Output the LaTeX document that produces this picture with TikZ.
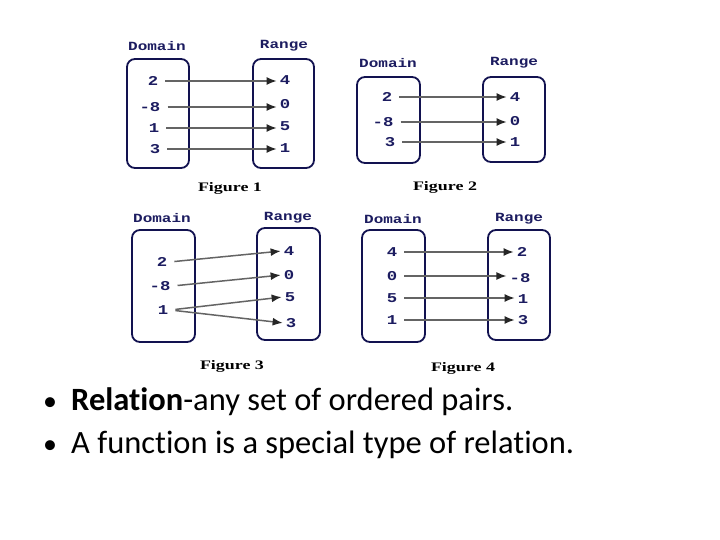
\documentclass[tikz,border=0pt]{standalone}
\usepackage{fontspec}
\setmainfont[Ligatures=NoCommon]{Carlito}
\newfontfamily\monof[FakeStretch=1.28]{Liberation Mono}
\newfontfamily\figf[FakeStretch=1.38]{Liberation Serif}
\usetikzlibrary{arrows.meta}
\definecolor{navy}{RGB}{28,28,96}
\definecolor{boxc}{RGB}{18,18,80}
\definecolor{arrc}{RGB}{100,100,100}
\begin{document}
\begin{tikzpicture}[x=1pt,y=-1pt,
  setbox/.style={draw=boxc,line width=1.8pt,rounded corners=8pt},
  lab/.style={text=navy,font=\monof\bfseries\fontsize{12.5}{12.5}\selectfont,inner sep=1pt},
  num/.style={text=navy,font=\monof\bfseries\fontsize{13.5}{13.5}\selectfont,inner sep=2pt},
  figlab/.style={font=\figf\bfseries\fontsize{13}{13}\selectfont,inner sep=1pt},
  arr/.style={draw=arrc,line width=1.5pt,-{Latex[length=10pt,width=8pt,color=black!85]},shorten <=5pt,shorten >=1pt},
  bul/.style={font=\fontsize{32.5}{32.5}\selectfont,anchor=base west,inner sep=0pt},
  bulsym/.style={font=\fontsize{28}{28}\selectfont,anchor=base west,inner sep=0pt}]
\useasboundingbox[fill=white] (0,0) rectangle (720,540);

% ---------- Figure 1 ----------
\node[lab] (f1d) at (157,46) {Domain};
\node[lab] (f1r) at (284,46) {Range};
\draw[setbox] (127,59) rectangle (189,168);
\draw[setbox] (253,59) rectangle (314,168);
\node[num] (d1a) at (153,81) {2};
\node[num] (d1b) at (150,107) {-8};
\node[num] (d1c) at (154,128) {1};
\node[num] (d1d) at (155,149) {3};
\node[num] (r1a) at (285,80) {4};
\node[num] (r1b) at (285,104) {0};
\node[num] (r1c) at (285,126) {5};
\node[num] (r1d) at (285,148) {1};
\draw[arr] (d1a.east) -- (d1a.east -| r1a.west);
\draw[arr] (d1b.east) -- (d1b.east -| r1b.west);
\draw[arr] (d1c.east) -- (d1c.east -| r1c.west);
\draw[arr] (d1d.east) -- (d1d.east -| r1d.west);
\node[figlab] (f1) at (230,188) {Figure 1};

% ---------- Figure 2 ----------
\node[lab] (f2d) at (388,63) {Domain};
\node[lab] (f2r) at (514,63) {Range};
\draw[setbox] (357,77) rectangle (420,163);
\draw[setbox] (483,77) rectangle (545,162);
\node[num] (d2a) at (387,97) {2};
\node[num] (d2b) at (383,122) {-8};
\node[num] (d2c) at (390,142) {3};
\node[num] (r2a) at (515,97) {4};
\node[num] (r2b) at (515,121) {0};
\node[num] (r2c) at (515,142) {1};
\draw[arr] (d2a.east) -- (d2a.east -| r2a.west);
\draw[arr] (d2b.east) -- (d2b.east -| r2b.west);
\draw[arr] (d2c.east) -- (d2c.east -| r2c.west);
\node[figlab] (f2) at (445,187) {Figure 2};

% ---------- Figure 3 ----------
\node[lab] (f3d) at (162,218) {Domain};
\node[lab] (f3r) at (288,218) {Range};
\draw[setbox] (132,230) rectangle (195,342);
\draw[setbox] (257,228) rectangle (320,340);
\node[num] (d3a) at (162,262) {2};
\node[num] (d3b) at (160,286) {-8};
\node[num] (d3c) at (163,310) {1};
\node[num] (r3a) at (289,251) {4};
\node[num] (r3b) at (289,275) {0};
\node[num] (r3c) at (290,297) {5};
\node[num] (r3d) at (291,323) {3};
\draw[arr] (d3a.east) -- (r3a.west);
\draw[arr] (d3b.east) -- (r3b.west);
\draw[arr] (d3c.east) -- (r3c.west);
\draw[arr] (d3c.east) -- (r3d.west);
\node[figlab] (f3) at (232,366) {Figure 3};

% ---------- Figure 4 ----------
\node[lab] (f4d) at (393,219) {Domain};
\node[lab] (f4r) at (519,219) {Range};
\draw[setbox] (362,230) rectangle (425,342);
\draw[setbox] (488,230) rectangle (550,340);
\node[num] (d4a) at (392,252) {4};
\node[num] (d4b) at (392,276) {0};
\node[num] (d4c) at (392,298) {5};
\node[num] (d4d) at (392,320) {1};
\node[num] (r4a) at (522,252) {2};
\node[num] (r4b) at (520,278) {-8};
\node[num] (r4c) at (523,299) {1};
\node[num] (r4d) at (523,320) {3};
\draw[arr] (d4a.east) -- (d4a.east -| r4a.west);
\draw[arr] (d4b.east) -- (d4b.east -| r4b.west);
\draw[arr] (d4c.east) -- (d4c.east -| r4c.west);
\draw[arr] (d4d.east) -- (d4d.east -| r4d.west);
\node[figlab] (f4) at (463,368) {Figure 4};

% ---------- Bullets ----------
\node[bulsym] (b1) at (43,410) {\textbullet};
\node[bul] (t1) at (71,410) {\textbf{Relation}-any set of ordered pairs.};
\node[bulsym] (b2) at (43,453) {\textbullet};
\node[bul] (t2) at (71,453) {A function is a special type of relation.};
\end{tikzpicture}
\end{document}
